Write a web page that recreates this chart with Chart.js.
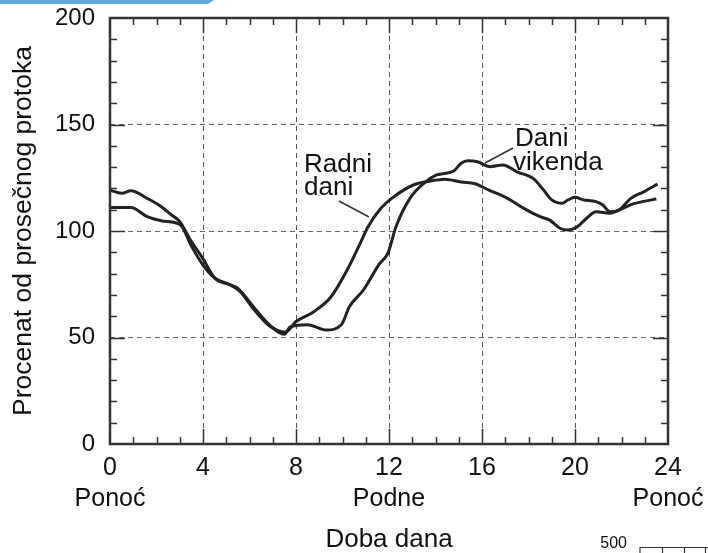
<html>
    <head>
        <title>Procenat od prosečnog protoka</title>
        <script src="https://cdn.jsdelivr.net/npm/chart.js@4.4.1/dist/chart.umd.min.js"></script>
        <style>
            body { margin: 0; background: #fff; }
            .box { width: 708px; height: 553px; position: relative; }
        </style>
    </head>
    <body>
        <div class="box"><canvas id="mainchart"></canvas></div>
        <script>
            // sati (h) i procenat od prosečnog protoka
            const radniSati = [0, 0.9, 1.6, 2.2, 2.9, 3.1, 3.5, 4, 4.5, 5.2, 5.6, 6.2, 6.85, 7.55, 8.0, 8.75, 9.5, 10.2, 10.75, 11.1, 11.6, 12.2, 13.05, 13.8, 14.4, 15.1, 15.7, 16.3, 17.1, 17.8, 18.5, 18.9, 19.35, 19.7, 20.1, 20.5, 20.9, 21.5, 21.9, 22.5, 22.9, 23.5]
            const radniDani = [111, 111, 106.7, 104.8, 103.6, 102, 93, 84, 78, 74.5, 71.5, 63, 55.5, 52.5, 57.5, 62, 69, 81.7, 94, 102, 110, 116, 121.6, 123.5, 124.3, 123, 122.2, 119.2, 115.3, 110.6, 106.7, 105.2, 101.3, 100.5, 102, 106, 109, 108.3, 109.9, 112.7, 113.8, 115]

            const vikendSati = [0, 0.5, 0.9, 1.6, 2.1, 2.65, 3.0, 3.5, 4, 4.5, 5.2, 5.5, 6.2, 6.85, 7.5, 7.75, 8.5, 9.3, 9.95, 10.3, 10.9, 11.6, 11.95, 12.3, 12.9, 13.5, 14.05, 14.8, 15.1, 15.4, 15.8, 16.35, 16.9, 17.5, 18.2, 18.65, 19.0, 19.45, 19.7, 20.0, 20.35, 20.9, 21.2, 21.5, 21.9, 22.4, 22.95, 23.55]
            const daniVikenda = [119.2, 117.7, 118.9, 115.3, 112.2, 107.5, 104.4, 95, 87, 78, 74.6, 73, 64, 56, 51.5, 55, 56, 53.5, 56, 64.5, 72.3, 84.8, 89.5, 102, 115.3, 122.4, 126.3, 128.3, 131.8, 133, 132.5, 130.2, 131, 127.8, 124.7, 119.2, 114.6, 113, 114.6, 115.8, 114.6, 113.8, 112.2, 109, 109.9, 115.3, 118.4, 122]

            const oznakeX = { 0: ['0', 'Ponoć'], 12: ['12', 'Podne'], 24: ['24', 'Ponoć'] }

            const FONT = 'Liberation Sans, Arial, Helvetica, sans-serif'
            const lineColor = '#222'

            function toPoints(xs, ys) {
                return xs.map((x, i) => ({ x: x, y: ys[i] }))
            }

            // okvir, unutrašnje crtice, natpisi uz krive
            const framePlugin = {
                id: 'frame',
                afterDraw(chart) {
                    const c = chart.ctx
                    const a = chart.chartArea
                    const sx = chart.scales.x
                    const sy = chart.scales.y
                    c.save()
                    c.strokeStyle = '#333'
                    c.lineWidth = 1.5
                    c.setLineDash([])
                    c.beginPath()
                    for (let h = 1; h < 24; h++) {
                        const px = Math.round(sx.getPixelForValue(h)) + 0.5
                        const len = h % 4 === 0 ? 15 : 7
                        c.moveTo(px, a.bottom); c.lineTo(px, a.bottom - len)
                        c.moveTo(px, a.top); c.lineTo(px, a.top + len)
                    }
                    for (let v = 10; v < 200; v += 10) {
                        const py = Math.round(sy.getPixelForValue(v)) + 0.5
                        const len = v % 50 === 0 ? 15 : 7
                        c.moveTo(a.left, py); c.lineTo(a.left + len, py)
                        c.moveTo(a.right, py); c.lineTo(a.right - len, py)
                    }
                    c.stroke()
                    c.lineWidth = 2.5
                    c.strokeRect(a.left, a.top, a.right - a.left, a.bottom - a.top)

                    c.fillStyle = '#111'
                    c.font = '26px ' + FONT
                    c.textAlign = 'left'
                    c.textBaseline = 'alphabetic'
                    c.fillText('Radni', 304, 172)
                    c.fillText('dani', 304, 195)
                    c.fillText('Dani', 515, 146)
                    c.fillText('vikenda', 513, 170)
                    c.lineWidth = 1.5
                    c.beginPath()
                    c.moveTo(339, 201); c.lineTo(369, 217)
                    c.moveTo(485, 163); c.lineTo(513, 148)
                    c.stroke()

                    // ostaci sa ivica slike
                    c.fillStyle = '#5fa8dc'
                    c.beginPath()
                    c.moveTo(0, 0); c.lineTo(214, 0); c.lineTo(208, 4); c.lineTo(0, 4)
                    c.fill()
                    c.fillStyle = '#111'
                    c.font = '16px ' + FONT
                    c.textAlign = 'right'
                    c.fillText('500', 627, 548)
                    c.lineWidth = 1.2
                    c.beginPath()
                    c.moveTo(640, 553); c.lineTo(640, 547.5); c.lineTo(708, 547.5)
                    ;[662, 684, 705].forEach(t => { c.moveTo(t + 0.5, 547.5); c.lineTo(t + 0.5, 553) })
                    c.stroke()
                    c.restore()
                }
            }

            const ctx = document.getElementById('mainchart').getContext('2d')
            const mainchart = new Chart(ctx, {
                type: 'line',
                data: {
                    datasets: [
                        { label: 'Radni dani', data: toPoints(radniSati, radniDani) },
                        { label: 'Dani vikenda', data: toPoints(vikendSati, daniVikenda) }
                    ]
                },
                options: {
                    responsive: true,
                    maintainAspectRatio: false,
                    animation: false,
                    layout: { padding: { left: 0, right: 40, top: 18, bottom: 0 } },
                    elements: {
                        line: { borderColor: lineColor, borderWidth: 3, tension: 0.4, cubicInterpolationMode: 'monotone' },
                        point: { radius: 0 }
                    },
                    plugins: {
                        legend: { display: false },
                        tooltip: { enabled: false }
                    },
                    scales: {
                        x: {
                            type: 'linear',
                            min: 0,
                            max: 24,
                            afterFit: (s) => { s.height = 109; s.paddingLeft = 0; s.paddingRight = 0 },
                            border: { display: false, dash: [5, 4] },
                            grid: {
                                drawTicks: false,
                                color: (c) => (c.tick.value === 0 || c.tick.value === 24) ? 'rgba(0,0,0,0)' : '#555'
                            },
                            ticks: {
                                stepSize: 4,
                                padding: 8,
                                color: '#111',
                                font: { family: FONT, size: 25, lineHeight: 1.25 },
                                callback: (v) => oznakeX[v] || String(v)
                            },
                            title: {
                                display: true,
                                text: 'Doba dana',
                                color: '#111',
                                font: { family: FONT, size: 26, lineHeight: 1 },
                                padding: { top: 0, bottom: 0 }
                            }
                        },
                        y: {
                            min: 0,
                            max: 200,
                            afterFit: (s) => { s.width = 110; s.paddingTop = 0; s.paddingBottom = 0 },
                            border: { display: false, dash: [5, 4] },
                            grid: {
                                drawTicks: false,
                                color: (c) => (c.tick.value === 0 || c.tick.value === 200) ? 'rgba(0,0,0,0)' : '#666'
                            },
                            ticks: {
                                stepSize: 50,
                                padding: 15,
                                color: '#111',
                                font: { family: FONT, size: 24 }
                            },
                            title: {
                                display: true,
                                text: 'Procenat od prosečnog protoka',
                                color: '#111',
                                font: { family: FONT, size: 26.5 },
                                padding: { top: 8, bottom: 0 }
                            }
                        }
                    }
                },
                plugins: [framePlugin]
            })
        </script>
    </body>
</html>
